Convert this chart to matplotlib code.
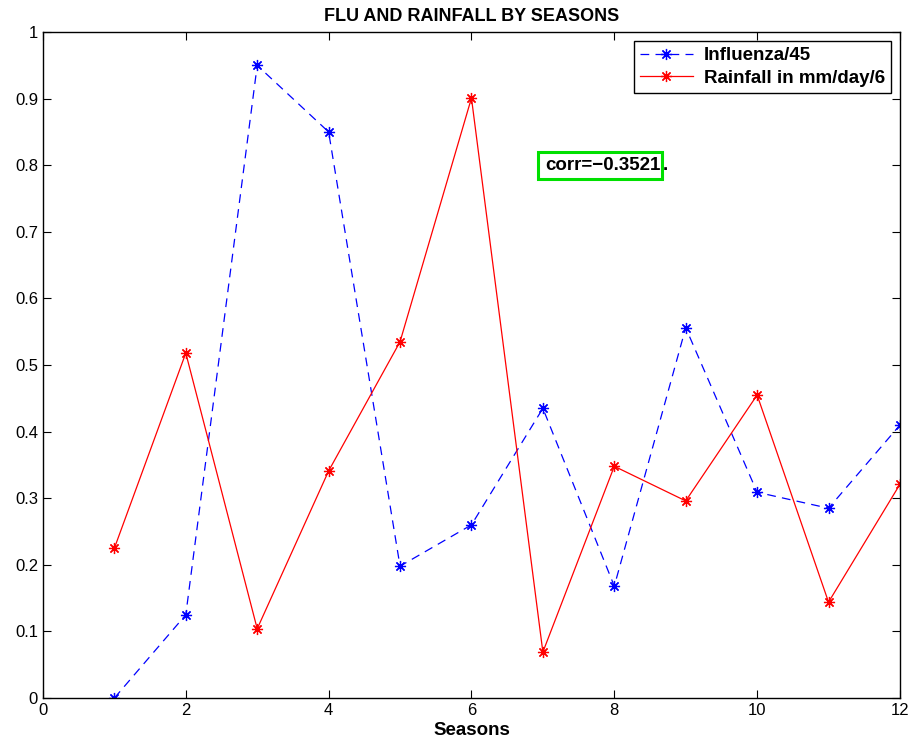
import matplotlib
matplotlib.use('Agg')
import matplotlib.pyplot as plt
from matplotlib.patches import Rectangle

plt.rcParams['font.family'] = ['Liberation Sans', 'DejaVu Sans']

seasons = [1, 2, 3, 4, 5, 6, 7, 8, 9, 10, 11, 12]
influenza = [0.0, 0.125, 0.950, 0.850, 0.198, 0.260, 0.435, 0.168, 0.556, 0.309, 0.285, 0.410]
rainfall = [0.225, 0.518, 0.104, 0.341, 0.535, 0.901, 0.069, 0.348, 0.296, 0.455, 0.144, 0.321]

fig = plt.figure(figsize=(9.12, 7.46), dpi=100)
ax = fig.add_axes([0.0471, 0.0643, 0.9397, 0.8927])

star = (8, 2, 0)  # asterisk like matlab '*'
ax.plot(seasons, influenza, color='blue', linestyle=(0, (7, 5)), linewidth=0.9,
        marker=star, markersize=8, markeredgewidth=0.9, label='Influenza/45')
ax.plot(seasons, rainfall, color='red', linestyle='-', linewidth=0.9,
        marker=star, markersize=8, markeredgewidth=0.9, label='Rainfall in mm/day/6')

ax.set_xlim(0, 12)
ax.set_ylim(0, 1)
ax.set_xticks(range(0, 13, 2))
ax.set_yticks([i / 10 for i in range(11)])
ax.set_yticklabels(['0', '0.1', '0.2', '0.3', '0.4', '0.5', '0.6', '0.7', '0.8', '0.9', '1'])
ax.tick_params(direction='in', top=True, right=True, labelsize=12, length=6, width=0.8)
for s in ax.spines.values():
    s.set_linewidth(1.0)

ax.set_title('FLU AND RAINFALL BY SEASONS', fontsize=13, fontweight='bold', pad=8)
ax.set_xlabel('Seasons', fontsize=13.5, fontweight='bold', labelpad=3)

leg = ax.legend(loc='upper right', prop={'weight': 'bold', 'size': 13.5},
                fancybox=False, edgecolor='black', framealpha=1, handlelength=2.8,
                handletextpad=0.6, borderaxespad=0.5, borderpad=0.3, labelspacing=0.3)
leg.get_frame().set_linewidth(1.0)

# correlation label with green box (period sits just outside the box)
ax.add_patch(Rectangle((6.93, 0.779), 1.737, 0.041, fill=False, edgecolor='#00e000',
                       linewidth=2.2, zorder=4))
ax.text(7.04, 0.80, 'corr=\u22120.3521', fontsize=13.5, fontweight='bold', va='center',
        ha='left', zorder=5)
ax.text(8.68, 0.80, '.', fontsize=13.5, fontweight='bold', va='center', ha='left', zorder=5)

fig.savefig('out.png', dpi=100)
